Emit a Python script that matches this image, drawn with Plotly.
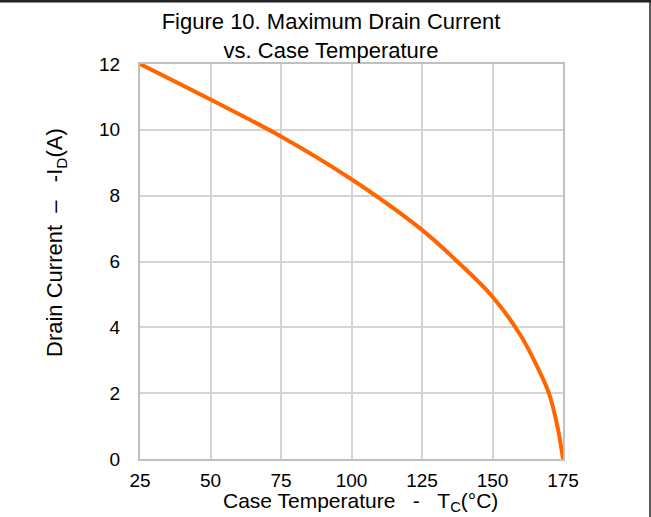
import plotly.graph_objects as go

temp_c = [25, 50, 75, 100, 125, 137.5, 150, 160, 167, 170, 173, 175]
drain_a = [12.0, 10.92, 9.8, 8.5, 6.96, 6.0, 4.93, 3.75, 2.6, 2.0, 1.0, 0.0]
x_ticks = [25, 50, 75, 100, 125, 150, 175]
y_ticks = [0, 2, 4, 6, 8, 10, 12]

FONT = "Liberation Sans, Arial, sans-serif"

# plot area in pixels
L, R, T, B = 140, 563, 64, 459
PW, PH = R - L, B - T

fig = go.Figure()
fig.add_trace(go.Scatter(
    x=temp_c, y=drain_a, mode="lines",
    line=dict(color="#ff6600", width=4, shape="spline", smoothing=1.0),
    hoverinfo="skip", showlegend=False,
))

axis_common = dict(
    showgrid=True, gridcolor="#d4d4d4", gridwidth=1.5,
    showline=True, linecolor="#c0c0c0", linewidth=2, mirror=True,
    zeroline=False, tickfont=dict(family=FONT, size=19, color="black"),
)

fig.update_xaxes(range=[25, 175], tickvals=x_ticks, ticktext=[str(v) for v in x_ticks],
                 ticks="outside", ticklen=3, tickcolor="rgba(0,0,0,0)", **axis_common)
fig.update_yaxes(range=[0, 12], tickvals=y_ticks, ticktext=[str(v) for v in y_ticks],
                 ticks="", ticklabelstandoff=14, **axis_common)

fig.update_layout(
    width=651, height=517,
    margin=dict(l=L, r=651 - R, t=T, b=517 - B),
    paper_bgcolor="white", plot_bgcolor="white",
    title=dict(text="Figure 10. Maximum Drain Current<br>vs. Case Temperature",
               font=dict(family=FONT, size=22, color="black"),
               x=331 / 651, xanchor="center", xref="container",
               y=1 - 29 / 517, yanchor="middle", yref="container"),
    annotations=[
        dict(text="Case Temperature\u00a0\u00a0\u00a0-\u00a0\u00a0\u00a0T<sub>C</sub>(°C)",
             xref="paper", yref="paper", x=(360 - L) / PW, y=(B - 502) / PH,
             xanchor="center", yanchor="middle", showarrow=False,
             font=dict(family=FONT, size=21, color="black")),
        dict(text="Drain Current\u00a0\u00a0\u2013\u00a0\u00a0\u00a0-I<sub>D</sub>(A)",
             xref="paper", yref="paper", x=(56 - L) / PW, y=(B - 243) / PH,
             xanchor="center", yanchor="middle", textangle=-90, showarrow=False,
             font=dict(family=FONT, size=22, color="black")),
    ],
    shapes=[
        dict(type="line", xref="paper", yref="paper",
             x0=-L / PW, x1=(651 - L) / PW, y0=(B - 1) / PH, y1=(B - 1) / PH,
             line=dict(color="#222222", width=3)),
        dict(type="line", xref="paper", yref="paper",
             x0=(650 - L) / PW, x1=(650 - L) / PW, y0=-(517 - B) / PH, y1=(B - 1) / PH,
             line=dict(color="#222222", width=1.5)),
    ],
)

fig.write_html("out.html")
